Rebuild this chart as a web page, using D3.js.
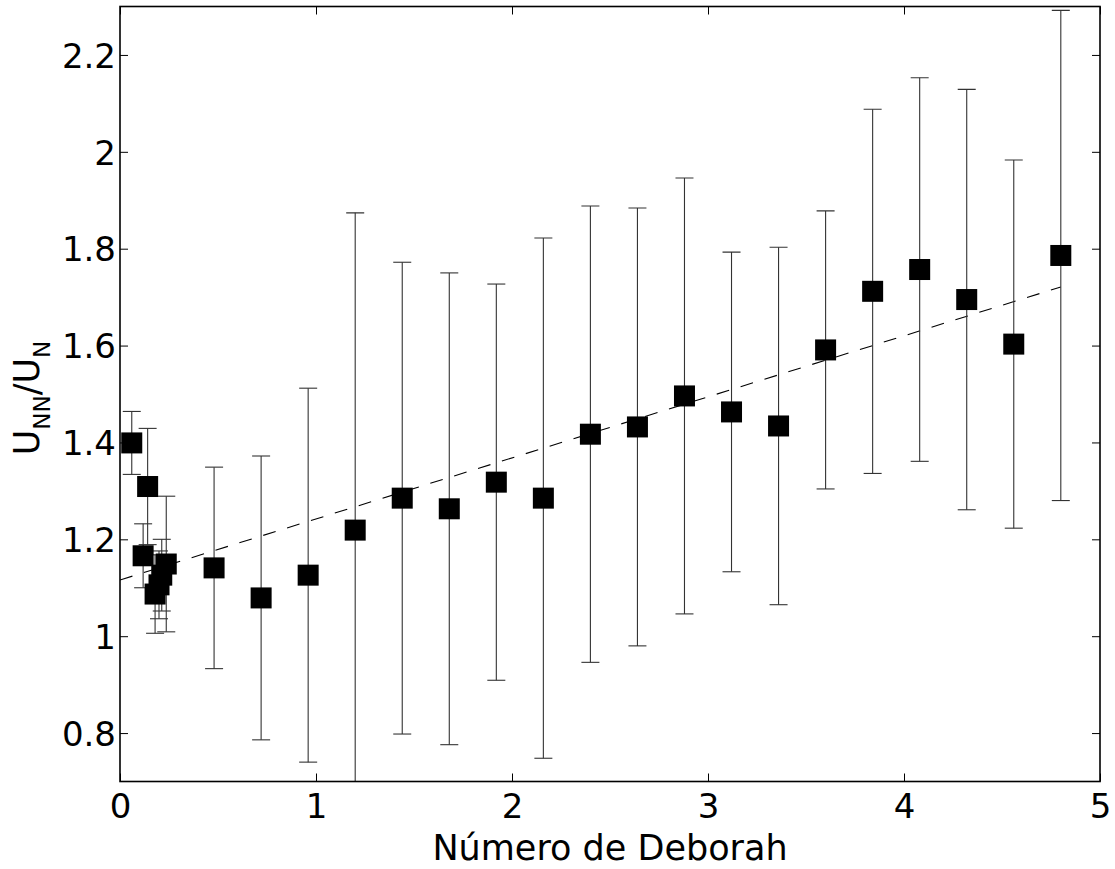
<!DOCTYPE html>
<head>
<meta charset="utf-8">
<title>Número de Deborah</title>
<style>
    body { margin:0; background:#fff; }
    svg { display:block; font-family:"DejaVu Sans", sans-serif; }
</style>
</head>
<body>
<svg width="1115" height="869"></svg>
<script src="https://cdnjs.cloudflare.com/ajax/libs/d3/7.8.5/d3.min.js"></script>
<script>
// Deborah number and velocity ratio, with half-width of the error bars
var deborah = [0.06, 0.118, 0.141, 0.179, 0.199, 0.213, 0.236,
               0.48, 0.72, 0.96, 1.2, 1.44, 1.68, 1.92, 2.16, 2.4,
               2.64, 2.88, 3.12, 3.36, 3.6, 3.84, 4.08, 4.32, 4.56, 4.8];
var ratio   = [1.399, 1.166, 1.309, 1.087, 1.106, 1.126, 1.149,
               1.141, 1.079, 1.126, 1.219, 1.285, 1.263, 1.318, 1.285, 1.417,
               1.432, 1.496, 1.463, 1.434, 1.591, 1.712, 1.757, 1.695, 1.603, 1.786];
var errHalf = [0.065, 0.066, 0.12, 0.081, 0.07, 0.074, 0.14,
               0.208, 0.293, 0.386, 0.655, 0.487, 0.487, 0.409, 0.537, 0.471,
               0.452, 0.45, 0.33, 0.369, 0.287, 0.376, 0.396, 0.434, 0.38, 0.506];
// linear fit, drawn dashed
var fitX = [0, 4.8];
var fitY = [1.116, 1.721];

var xTicks = [0, 1, 2, 3, 4, 5];
var yTicks = [0.8, 1, 1.2, 1.4, 1.6, 1.8, 2, 2.2];

var margin = {top: 6.5, right: 15, bottom: 87.5, left: 120};
var W = 1115, H = 869;
var w = W - margin.left - margin.right,
    h = H - margin.top - margin.bottom;

var svg = d3.select("svg");
var g = svg.append("g").attr("transform", "translate(" + margin.left + "," + margin.top + ")");

var x = d3.scaleLinear().domain([0, 5]).range([0, w]);
var y = d3.scaleLinear().domain([0.7, 2.3]).range([h, 0]);

svg.append("defs").append("clipPath").attr("id", "clip")
  .append("rect").attr("width", w).attr("height", h);

var pts = deborah.map(function(d, i){ return {x: d, y: ratio[i], e: errHalf[i]}; });

var plot = g.append("g").attr("clip-path", "url(#clip)");

// fit line
plot.append("path")
  .datum(fitX.map(function(d, i){ return [d, fitY[i]]; }))
  .attr("fill", "none")
  .attr("stroke", "#000")
  .attr("stroke-width", 1.1)
  .attr("stroke-dasharray", "13,12")
  .attr("d", d3.line().x(function(d){ return x(d[0]); }).y(function(d){ return y(d[1]); }));

// error bars
var capW = 9;
var eb = plot.selectAll(".eb").data(pts).enter().append("g").attr("class", "eb")
  .attr("stroke", "#333").attr("stroke-width", 1.1);
eb.append("line")
  .attr("x1", function(d){ return x(d.x); }).attr("x2", function(d){ return x(d.x); })
  .attr("y1", function(d){ return y(d.y - d.e); }).attr("y2", function(d){ return y(d.y + d.e); });
eb.append("line")
  .attr("x1", function(d){ return x(d.x) - capW; }).attr("x2", function(d){ return x(d.x) + capW; })
  .attr("y1", function(d){ return y(d.y + d.e); }).attr("y2", function(d){ return y(d.y + d.e); });
eb.append("line")
  .attr("x1", function(d){ return x(d.x) - capW; }).attr("x2", function(d){ return x(d.x) + capW; })
  .attr("y1", function(d){ return y(d.y - d.e); }).attr("y2", function(d){ return y(d.y - d.e); });

// markers
var sq = 21;
plot.selectAll(".pt").data(pts).enter().append("rect")
  .attr("class", "pt")
  .attr("x", function(d){ return x(d.x) - sq / 2; })
  .attr("y", function(d){ return y(d.y) - sq / 2; })
  .attr("width", sq).attr("height", sq)
  .attr("fill", "#000");

// axes with inward ticks on all four sides
function style(sel){
  sel.select(".domain").remove();
  sel.selectAll(".tick line").attr("stroke", "#000").attr("stroke-width", 1);
  sel.selectAll("text").attr("font-size", 34).attr("fill", "#000").attr("font-family", "DejaVu Sans");
}
g.append("g").attr("transform", "translate(0," + h + ")")
  .call(d3.axisBottom(x).tickValues(xTicks).tickSize(-8).tickPadding(12).tickFormat(d3.format("d")))
  .call(style)
  .selectAll("text").attr("dy", "0.71em");
g.append("g")
  .call(d3.axisTop(x).tickValues(xTicks).tickSize(-8).tickFormat(""))
  .call(style);
g.append("g")
  .call(d3.axisLeft(y).tickValues(yTicks).tickSize(-8).tickPadding(4).tickFormat(function(d){ return String(d); }))
  .call(style)
  .selectAll("text").attr("dy", "0.36em");
g.append("g").attr("transform", "translate(" + w + ",0)")
  .call(d3.axisRight(y).tickValues(yTicks).tickSize(-8).tickFormat(""))
  .call(style);

// frame
g.append("rect").attr("width", w).attr("height", h)
  .attr("fill", "none").attr("stroke", "#000").attr("stroke-width", 1.6);

// axis titles
svg.append("text")
  .attr("x", margin.left + w / 2).attr("y", 860)
  .attr("text-anchor", "middle").attr("font-size", 35)
  .text("Número de Deborah");

var yl = svg.append("text")
  .attr("transform", "translate(39,398) rotate(-90)")
  .attr("text-anchor", "middle").attr("font-size", 35);
yl.append("tspan").text("U");
yl.append("tspan").attr("font-size", 23).attr("dy", 11).text("NN");
yl.append("tspan").attr("dy", -11).text("/U");
yl.append("tspan").attr("font-size", 23).attr("dy", 11).text("N");
</script>
</body>
